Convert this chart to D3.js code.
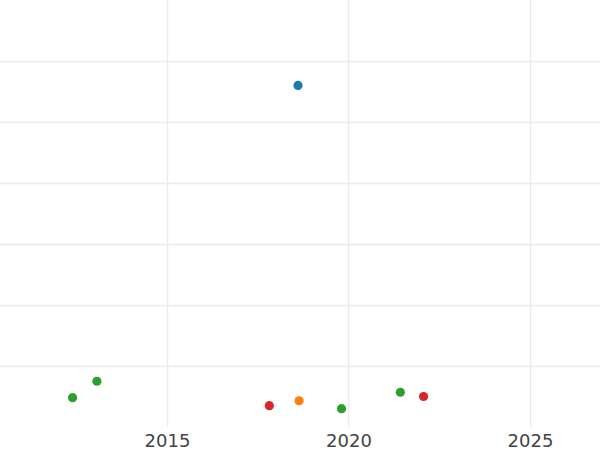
<!DOCTYPE html>
<html>
<head>
<meta charset="utf-8">
<script src="https://cdn.jsdelivr.net/npm/d3@7"></script>
<style>
  html, body { margin: 0; padding: 0; background: #fff; }
  svg { display: block; }
</style>
</head>
<body>
<svg id="chart" width="600" height="450"></svg>
<script>
// Data
const years   = [2012.40, 2013.07, 2017.82, 2018.61, 2018.64, 2019.81, 2021.43, 2022.07];
const values  = [4.8,     7.5,     3.5,     56.0,    4.3,     3.0,     5.7,     5.0];
const groups  = ["C",     "C",     "D",     "A",     "B",     "C",     "C",     "D"];
const groupNames  = ["A", "B", "C", "D"];
const groupColors = ["#1f77b4", "#ff7f0e", "#2ca02c", "#d62728"];
const xTicks = [2015, 2020, 2025];
const yTicks = [10, 20, 30, 40, 50, 60];

const svg = d3.select("#chart");
const W = 600, plotBottom = 427;

const x = d3.scaleLinear().domain([2010.4, 2026.93]).range([0, W]);
const y = d3.scaleLinear().domain([0, 70]).range([plotBottom, 0]);
const color = d3.scaleOrdinal().domain(groupNames).range(groupColors);

// Horizontal grid
svg.append("g")
  .selectAll("line")
  .data(yTicks)
  .join("line")
  .attr("x1", 0).attr("x2", W)
  .attr("y1", d => Math.round(y(d)) + 0.5)
  .attr("y2", d => Math.round(y(d)) + 0.5)
  .attr("stroke", "#ebebeb")
  .attr("stroke-width", 1.3);

// Vertical grid
svg.append("g")
  .selectAll("line")
  .data(xTicks)
  .join("line")
  .attr("x1", d => Math.round(x(d)) + 0.5)
  .attr("x2", d => Math.round(x(d)) + 0.5)
  .attr("y1", 0).attr("y2", plotBottom)
  .attr("stroke", "#ebebeb")
  .attr("stroke-width", 1.3);

// X axis labels
const xAxis = d3.axisBottom(x).tickValues(xTicks).tickFormat(d3.format("d")).tickSize(0).tickPadding(7);
const gx = svg.append("g").attr("transform", `translate(0,${plotBottom})`).call(xAxis);
gx.select(".domain").remove();
gx.selectAll("text")
  .attr("font-family", "DejaVu Sans, sans-serif")
  .attr("font-size", 18)
  .attr("fill", "#444");

// Points
svg.append("g")
  .selectAll("circle")
  .data(years.map((yr, i) => ({yr, v: values[i], g: groups[i]})))
  .join("circle")
  .attr("cx", d => x(d.yr))
  .attr("cy", d => y(d.v))
  .attr("r", 4.6)
  .attr("fill", d => color(d.g));
</script>
</body>
</html>
